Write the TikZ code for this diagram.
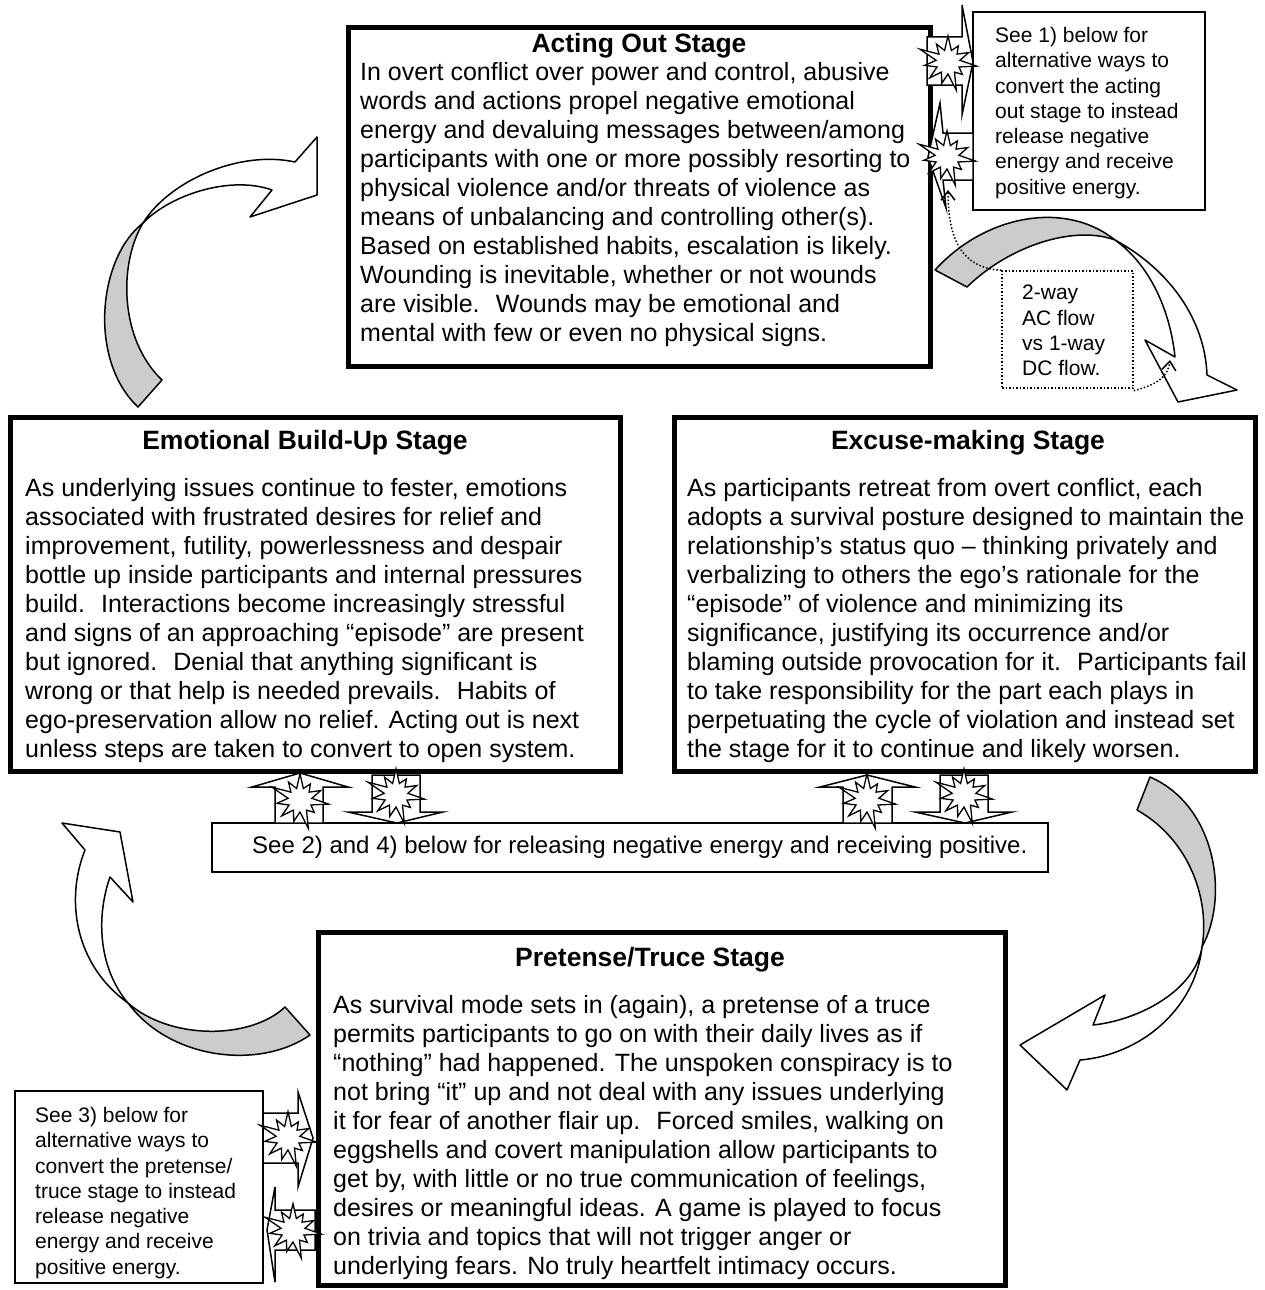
\documentclass[tikz,border=0pt]{standalone}
\usepackage{fontspec}
\setmainfont{Liberation Sans}
\usetikzlibrary{shapes.symbols,arrows.meta}

\tikzset{
  stagebox/.style={draw, line width=5pt},
  notebox/.style={draw, line width=1.5pt},
  dotbox/.style={draw, dotted, line width=1.5pt},
  stagetitle/.style={inner sep=0pt, font=\fontsize{26.5}{30}\selectfont\bfseries},
  bodytext/.style={anchor=north west, align=left, inner sep=0pt, font=\fontsize{25}{29}\selectfont},
  notetext/.style={anchor=north west, align=left, inner sep=0pt, font=\fontsize{21}{25.3}\selectfont},
  ribbon/.style={draw, line width=1.5pt, fill=black!20, line join=round},
  ribbonhead/.style={draw, line width=1.5pt, fill=white, line join=round},
  blockarrow/.style={draw, line width=1.5pt, fill=white, line join=miter},
  bang/.style={starburst, starburst points=11, starburst point height=20pt, draw,
    line width=1.3pt, fill=white, inner sep=0pt, minimum width=64pt, minimum height=64pt},
  dotarrow/.style={dotted, line width=1.5pt, -{Straight Barb[length=9pt,width=14pt]}},
}

\begin{document}
\begin{tikzpicture}[x=1pt, y=-1pt]
    \useasboundingbox (0,0) rectangle (1265,1290);

    % Stage boxes
    \node[stagebox, minimum width=582pt, minimum height=338pt] (act) at (639,197) {};
    \node[stagebox, minimum width=610pt, minimum height=354pt] (emo) at (315,594) {};
    \node[stagebox, minimum width=581pt, minimum height=354pt] (exc) at (964.5,594) {};
    \node[stagebox, minimum width=687pt, minimum height=353pt] (pre) at (661.5,1108.5) {};

    % Notes
    \node[notebox, minimum width=232pt, minimum height=198pt] (note1) at (1089,111) {};
    \node[notebox, minimum width=836pt, minimum height=49pt] (note2) at (630,847.5) {};
    \node[notebox, minimum width=248pt, minimum height=192pt] (note3) at (139,1187) {};
    \node[dotbox, minimum width=131pt, minimum height=117pt] (flow) at (1067.5,329.5) {};

    % Curved arrow: build-up to acting out
    \draw[ribbon] (138,407) -- (162,380) .. controls (120,340) and (118,265) .. (143,223)
        .. controls (98,258) and (88,360) .. cycle;
    \draw[ribbonhead] (143,223) .. controls (170,180) and (240,150) .. (295,162)
        -- (317,137) -- (317,195) -- (250,217) -- (272,190)
        .. controls (230,175) and (170,195) .. cycle;

    % Curved arrow: acting out to excuse-making
    \draw[ribbon] (935,270) -- (967,287) .. controls (1010,245) and (1075,225) .. (1115,240)
        .. controls (1065,200) and (985,215) .. cycle;
    \draw[ribbonhead] (1115,240) .. controls (1170,270) and (1205,320) .. (1207,375)
        -- (1237,390) -- (1178,402) -- (1145,340) -- (1175,357)
        .. controls (1170,310) and (1150,265) .. cycle;

    % Curved arrow: excuse-making to pretense
    \draw[ribbon] (1150,777) -- (1137,810) .. controls (1190,840) and (1210,900) .. (1202,947)
        .. controls (1230,895) and (1215,805) .. cycle;
    \draw[ribbonhead] (1202,947) .. controls (1195,1010) and (1140,1055) .. (1080,1060)
        -- (1067,1090) -- (1020,1045) -- (1105,995) -- (1093,1025)
        .. controls (1140,1020) and (1195,990) .. cycle;

    % Curved arrow: pretense to build-up
    \draw[ribbon] (285,1007) -- (310,1035) .. controls (260,1070) and (170,1060) .. (128,1003)
        .. controls (170,1040) and (250,1040) .. cycle;
    \draw[ribbonhead] (128,1003) .. controls (75,965) and (65,900) .. (85,850)
        -- (62,823) -- (120,832) -- (133,902) -- (110,877)
        .. controls (95,920) and (100,970) .. cycle;

    % Release / receive arrows
    \draw[blockarrow] (927,37) -- (962,37) -- (962,5) -- (973,62) -- (962,115) -- (962,85) -- (927,85) -- cycle;
    \draw[blockarrow] (973,133) -- (943,133) -- (940,103) -- (928,157) -- (946,208) -- (943,180) -- (973,180) -- cycle;
    \draw[blockarrow] (275,823) -- (275,787) -- (252,787) -- (300,773) -- (348,787) -- (323,787) -- (323,823) -- cycle;
    \draw[blockarrow] (372,775) -- (420,775) -- (420,812) -- (443,812) -- (397,823) -- (348,812) -- (372,812) -- cycle;
    \draw[blockarrow] (843,823) -- (843,787) -- (820,787) -- (867,775) -- (915,787) -- (892,787) -- (892,823) -- cycle;
    \draw[blockarrow] (940,775) -- (988,775) -- (988,812) -- (1012,812) -- (965,823) -- (915,812) -- (940,812) -- cycle;
    \draw[blockarrow] (263,1113) -- (298,1113) -- (298,1092) -- (313,1138) -- (298,1187) -- (298,1163) -- (263,1163) -- cycle;
    \draw[blockarrow] (315,1210) -- (275,1210) -- (275,1187) -- (267,1230) -- (275,1282) -- (275,1250) -- (315,1250) -- cycle;

    \node[bang] (bang1) at (948,62) {};
    \node[bang] (bang2) at (947,157) {};
    \node[bang] (bang3) at (300,800) {};
    \node[bang] (bang4) at (396,795) {};
    \node[bang] (bang5) at (867,800) {};
    \node[bang] (bang6) at (964,795) {};
    \node[bang] (bang7) at (288,1138) {};
    \node[bang] (bang8) at (293,1230) {};

    % AC / DC flow pointers
    \coordinate (flowup) at (948,190);
    \coordinate (flowdown) at (1170,360);
    \draw[dotarrow] (flow.north west) .. controls (962,268) and (948,240) .. (flowup);
    \draw[dotarrow] ([yshift=-2pt]flow.south east) .. controls (1155,385) and (1168,378) .. (flowdown);

    % Texts
    \node[stagetitle] (acttitle) at (639,46) {Acting Out Stage};
    \node[bodytext] (acttext) at (360,62) {In overt conflict over power and control, abusive\\
words and actions propel negative emotional\\
energy and devaluing messages between/among\\
participants with one or more possibly resorting to\\
physical violence and/or threats of violence as\\
means of unbalancing and controlling other(s).\\
Based on established habits, escalation is likely.\\
Wounding is inevitable, whether or not wounds\\
are visible. ~Wounds may be emotional and\\
mental with few or even no physical signs.};

    \node[stagetitle] (emotitle) at (305,443) {Emotional Build-Up Stage};
    \node[bodytext] (emotext) at (25,478) {As underlying issues continue to fester, emotions\\
associated with frustrated desires for relief and\\
improvement, futility, powerlessness and despair\\
bottle up inside participants and internal pressures\\
build. ~Interactions become increasingly stressful\\
and signs of an approaching “episode” are present\\
but ignored. ~Denial that anything significant is\\
wrong or that help is needed prevails. ~Habits of\\
ego-preservation allow no relief. Acting out is next\\
unless steps are taken to convert to open system.};

    \node[stagetitle] (exctitle) at (968,443) {Excuse-making Stage};
    \node[bodytext] (exctext) at (687,478) {As participants retreat from overt conflict, each\\
adopts a survival posture designed to maintain the\\
relationship’s status quo – thinking privately and\\
verbalizing to others the ego’s rationale for the\\
“episode” of violence and minimizing its\\
significance, justifying its occurrence and/or\\
blaming outside provocation for it. ~Participants fail\\
to take responsibility for the part each plays in\\
perpetuating the cycle of violation and instead set\\
the stage for it to continue and likely worsen.};

    \node[stagetitle] (pretitle) at (650,960) {Pretense/Truce Stage};
    \node[bodytext] (pretext) at (333,995) {As survival mode sets in (again), a pretense of a truce\\
permits participants to go on with their daily lives as if\\
“nothing” had happened. The unspoken conspiracy is to\\
not bring “it” up and not deal with any issues underlying\\
it for fear of another flair up. ~Forced smiles, walking on\\
eggshells and covert manipulation allow participants to\\
get by, with little or no true communication of feelings,\\
desires or meaningful ideas. A game is played to focus\\
on trivia and topics that will not trigger anger or\\
underlying fears. No truly heartfelt intimacy occurs.};

    \node[notetext] (note1text) at (995,27) {See 1) below for\\ alternative ways to\\ convert the acting\\
out stage to instead\\ release negative\\ energy and receive\\ positive energy.};
    \node[bodytext, anchor=west, font=\fontsize{24}{28}\selectfont] (note2text) at (252,847) {See 2) and 4) below for releasing negative energy and receiving positive.};
    \node[notetext] (note3text) at (35,1107) {See 3) below for\\ alternative ways to\\ convert the pretense/\\
truce stage to instead\\ release negative\\ energy and receive\\ positive energy.};
    \node[notetext] (flowtext) at (1022,285) {2-way\\ AC flow\\ vs 1-way\\ DC flow.};
\end{tikzpicture}
\end{document}
